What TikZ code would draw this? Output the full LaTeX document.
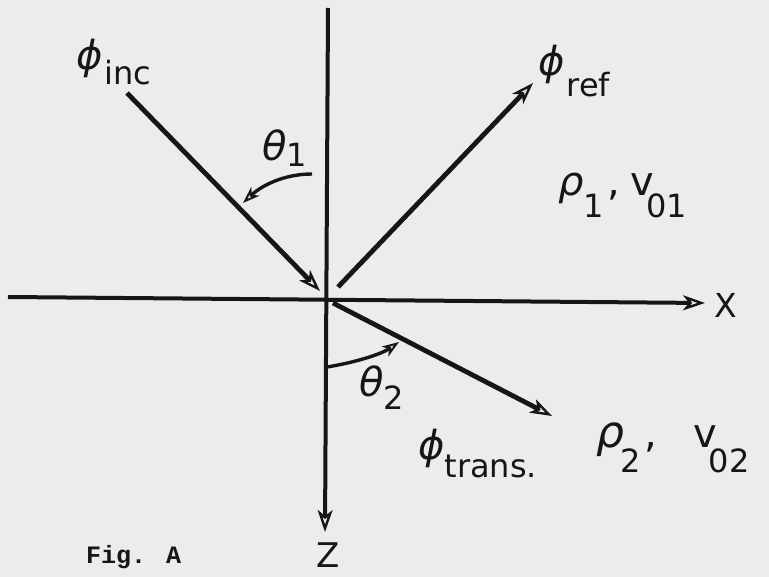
\documentclass[tikz,border=0pt]{standalone}
\usepackage{fontspec}
\setmainfont{DejaVu Sans}
\newfontfamily\figfont{Liberation Mono}
\usetikzlibrary{arrows.meta}
\definecolor{paper}{RGB}{236,236,234}
\definecolor{ink}{RGB}{22,22,22}
\newcommand{\bigf}{\fontsize{40}{40}\selectfont}
\newcommand{\subf}{\fontsize{32}{32}\selectfont}
\newcommand{\gk}{\itshape}
\begin{document}
\begin{tikzpicture}[x=1pt,y=-1pt,
  tip/.style={-{Stealth[open,length=22pt,width=15pt,inset=6pt,line width=2.4pt]}},
  ray/.style={draw=ink,line width=4.8pt,tip},
  axisline/.style={draw=ink,line width=4pt},
  anglearc/.style={draw=ink,line width=3.4pt,-{Stealth[open,length=17pt,width=12pt,inset=5pt,line width=2pt]}},
  lab/.style={inner sep=0pt,anchor=base west,text=ink}]
\useasboundingbox[fill=paper] (0,0) rectangle (769,577);

% points
\coordinate (O) at (326,298);
\coordinate (ztop) at (328,8);
\coordinate (zend) at (325,532);
\coordinate (xstart) at (8,297);
\coordinate (xend) at (705,303);
\coordinate (incstart) at (127,93);
\coordinate (incend) at (320,291);
\coordinate (refstart) at (338,287);
\coordinate (refend) at (533,83);
\coordinate (trstart) at (333,303);
\coordinate (trend) at (552,416);
\coordinate (t1a) at (312,174);
\coordinate (t1b) at (243,203);
\coordinate (t2a) at (327,367);
\coordinate (t2b) at (399,342);

% axes
\draw[axisline,tip] (ztop) -- (zend);
\draw[axisline,tip] (xstart) -- (xend);

% rays
\draw[ray] (incstart) -- (incend);
\draw[ray] (refstart) -- (refend);
\draw[ray] (trstart) -- (trend);

% angle arcs
\draw[anglearc] (t1a) .. controls (282,174) and (260,187) .. (t1b);
\draw[anglearc] (t2a) .. controls (352,363) and (380,355) .. (t2b);

% labels
\node[lab] (phiinc) at (76,70) {\bigf\gk ϕ\kern2pt\raisebox{-15pt}{\subf\upshape inc}};
\node[lab] (phiref) at (538,76) {\bigf\gk ϕ\kern2pt\raisebox{-21pt}{\subf\upshape ref}};
\node[lab] (phitr) at (418,459) {\bigf\gk ϕ\raisebox{-18pt}{\subf\upshape trans.}};
\node[lab] (th1) at (262,161) {\bigf\gk θ\raisebox{-6pt}{\subf\upshape 1}};
\node[lab] (th2) at (359,397) {\bigf\gk θ\raisebox{-13pt}{\subf\upshape 2}};
\node[lab] (rho1) at (558,196) {\bigf\gk ρ\raisebox{-22pt}{\subf\upshape 1}\upshape\kern4pt,\kern10pt v\kern-8pt\raisebox{-22pt}{\subf 01}};
\node[lab] (rho2) at (596,447) {\fontsize{44}{44}\selectfont\gk ρ\kern-4pt\raisebox{-25pt}{\subf\upshape 2}\upshape\bigf\kern4pt,\kern36pt v\kern-8pt\raisebox{-25pt}{\subf 02}};
\node[lab] (xlab) at (714,318) {\fontsize{33}{33}\selectfont X};
\node[lab,anchor=base] (zlab) at (328,567) {\fontsize{34}{34}\selectfont Z};
\node[lab] (fig) at (86,563) {\figfont\bfseries\fontsize{25}{25}\selectfont Fig. A};
\end{tikzpicture}
\end{document}
